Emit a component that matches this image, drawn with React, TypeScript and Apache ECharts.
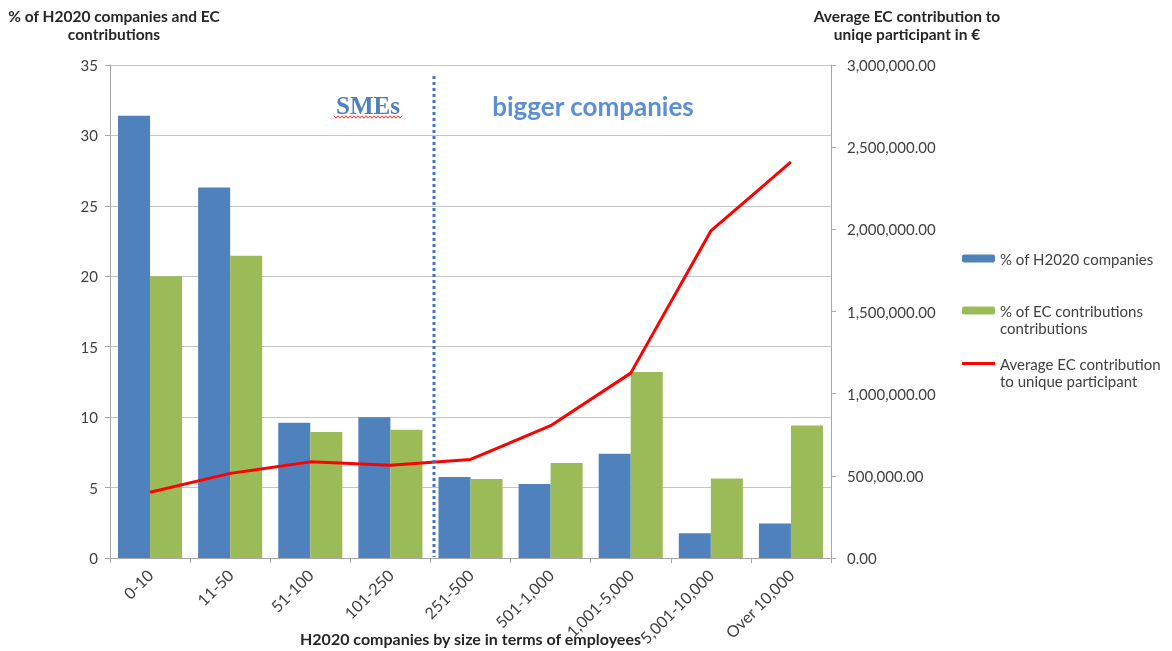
import React, { useEffect, useRef } from 'react';
import * as echarts from 'echarts';

const categories = ['0-10', '11-50', '51-100', '101-250', '251-500', '501-1,000', '1,001-5,000', '5,001-10,000', 'Over 10,000'];
const pctCompanies = [31.4, 26.3, 9.6, 10.0, 5.75, 5.25, 7.4, 1.75, 2.45];
const pctContributions = [20.0, 21.45, 8.95, 9.1, 5.6, 6.75, 13.2, 5.65, 9.4];
const avgContribution = [400000, 515000, 585000, 565000, 600000, 805000, 1125000, 1990000, 2410000];

const seriesNames = ['% of H2020 companies', '% of EC contributions', 'Average EC contribution'];
const legendLabels = ['% of H2020 companies', '% of EC contributions\ncontributions', 'Average EC contribution\nto unique participant'];

const FONT = 'Lato, "Noto Sans", sans-serif';

export default function App() {
  const ref = useRef<HTMLDivElement>(null);
  useEffect(() => {
    if (!ref.current) return;
    const chart = echarts.init(ref.current, undefined, { renderer: 'svg' });
    const wave: number[][] = [];
    for (let i = 0; i <= 34; i++) {
      wave.push([334 + i * 2, 117 + (i % 2 === 0 ? -1.2 : 1.2)]);
    }
    const legendText = { fontSize: 15, color: '#404040', fontFamily: FONT, lineHeight: 17 };
    chart.setOption({
      animation: false,
      textStyle: { fontFamily: FONT },
      grid: { left: 110, right: 341, top: 65, bottom: 93, outerBoundsMode: 'none', containLabel: false },
      legend: [
        {
          data: [seriesNames[0]], left: 962, top: 250, orient: 'vertical', padding: 0,
          itemWidth: 33, itemHeight: 8, itemGap: 4,
          formatter: () => legendLabels[0],
          textStyle: legendText,
        },
        {
          data: [seriesNames[1]], left: 962, top: 285, orient: 'vertical', padding: 0,
          itemWidth: 33, itemHeight: 8, itemGap: 4,
          formatter: () => '\n' + legendLabels[1],
          textStyle: legendText,
        },
        {
          data: [{ name: seriesNames[2], icon: 'rect' }], left: 962, top: 338, orient: 'vertical', padding: 0,
          itemWidth: 33, itemHeight: 3, itemGap: 4,
          formatter: () => '\n' + legendLabels[2],
          textStyle: legendText,
        },
      ],
      xAxis: {
        type: 'category',
        data: categories,
        name: 'H2020 companies by size in terms of employees',
        nameLocation: 'middle',
        nameGap: 72,
        nameMoveOverlap: false,
        nameTextStyle: { fontSize: 16, lineHeight: 16, fontWeight: 'bold', color: '#262626', fontFamily: FONT },
        axisLine: { show: true, lineStyle: { color: '#A6A6A6' } },
        axisTick: { show: true, interval: 0, length: 5, lineStyle: { color: '#A6A6A6' } },
        axisLabel: { rotate: 45, interval: 0, fontSize: 16, color: '#404040', margin: 14, fontFamily: FONT },
      },
      yAxis: [
        {
          type: 'value', min: 0, max: 35, interval: 5, position: 'left',
          axisLine: { show: true, lineStyle: { color: '#A6A6A6' } },
          axisTick: { show: true, length: 5, lineStyle: { color: '#A6A6A6' } },
          axisLabel: { fontSize: 15, color: '#404040', margin: 12, fontFamily: FONT },
          splitLine: { show: true, lineStyle: { color: '#C4C4C4' } },
        },
        {
          type: 'value', min: 0, max: 3000000, interval: 500000, position: 'right',
          axisLine: { show: true, lineStyle: { color: '#A6A6A6' } },
          axisTick: { show: true, length: 5, lineStyle: { color: '#A6A6A6' } },
          axisLabel: {
            fontSize: 15, color: '#404040', margin: 16, fontFamily: FONT,
            formatter: (v: number) => v.toLocaleString('en-US', { minimumFractionDigits: 2, maximumFractionDigits: 2 }),
          },
          splitLine: { show: false },
        },
      ],
      series: [
        {
          name: seriesNames[0], type: 'bar', data: pctCompanies, yAxisIndex: 0,
          barGap: '0%', barCategoryGap: '20%',
          itemStyle: { color: '#4F81BD' },
        },
        {
          name: seriesNames[1], type: 'bar', data: pctContributions, yAxisIndex: 0,
          barGap: '0%', barCategoryGap: '20%',
          itemStyle: { color: '#9BBB59' },
        },
        {
          name: seriesNames[2], type: 'line', data: avgContribution, yAxisIndex: 1,
          symbol: 'none', lineStyle: { color: '#FF0000', width: 3 }, itemStyle: { color: '#FF0000' },
          z: 5,
        },
      ],
      graphic: [
        {
          type: 'text', x: 114, y: 25,
          style: { text: '% of H2020 companies and EC\ncontributions', align: 'center', verticalAlign: 'middle', lineHeight: 18, font: `bold 15.5px ${FONT}`, fill: '#262626' },
        },
        {
          type: 'text', x: 907, y: 25,
          style: { text: 'Average EC contribution to\nuniqe participant in €', align: 'center', verticalAlign: 'middle', lineHeight: 18, font: `bold 15.5px ${FONT}`, fill: '#262626' },
        },
        {
          type: 'line', z: 10,
          shape: { x1: 434, y1: 76, x2: 434, y2: 557 },
          style: { stroke: '#4472C4', lineWidth: 3, lineDash: [3, 3] },
        },
        {
          type: 'text', x: 368, y: 105,
          style: { text: 'SMEs', align: 'center', verticalAlign: 'middle', font: `bold 25px "Liberation Serif", serif`, fill: '#4F81BD' },
        },
        {
          type: 'polyline',
          shape: { points: wave },
          style: { stroke: '#FF3030', lineWidth: 1, fill: null },
        },
        {
          type: 'text', x: 593, y: 106,
          style: { text: 'bigger companies', align: 'center', verticalAlign: 'middle', font: `bold 26px ${FONT}`, fill: '#5A8FD6' },
        },
      ],
    });
    return () => chart.dispose();
  }, []);
  return <div ref={ref} style={{ position: 'fixed', left: 0, top: 0, width: 1172, height: 651 }} />;
}
